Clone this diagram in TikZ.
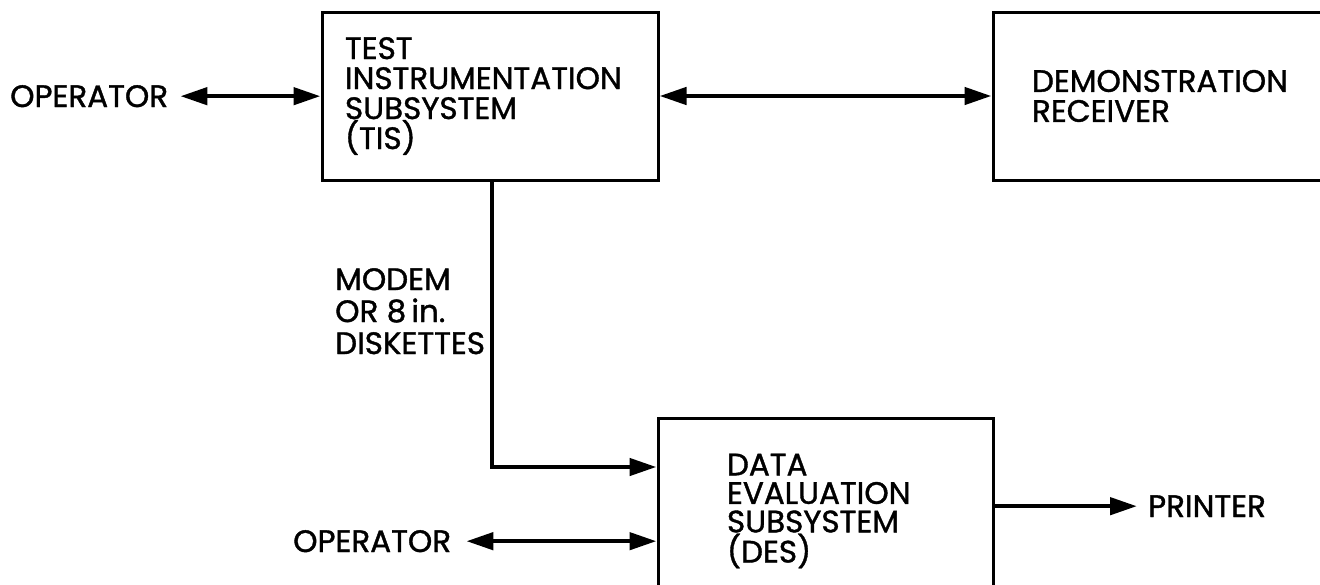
\documentclass[tikz,border=0pt]{standalone}
\usepackage{fontspec}
\setmainfont{Poppins}[FakeBold=1.2]
\usetikzlibrary{arrows.meta}
\begin{document}
\begin{tikzpicture}[x=1pt,y=-1pt,
  box/.style={draw, line width=3pt, inner ysep=0pt, align=left, font=\fontsize{31}{30}\selectfont},
  lbl/.style={inner sep=0pt, font=\fontsize{31}{30}\selectfont},
  conn/.style={line width=4.5pt},
  tip/.style={-{Triangle[length=27pt,width=17pt]}},
  dbl/.style={{Triangle[length=27pt,width=17pt]}-{Triangle[length=27pt,width=17pt]}}]
\useasboundingbox (0,0) rectangle (1320,584);
% boxes
\node[box, minimum width=336pt, minimum height=168pt, inner xsep=23pt, text width=290pt] (tis) at (490,96)
  {TEST\\INSTRUMENTATION\\SUBSYSTEM\\(TIS)};
\node[box, minimum width=367pt, minimum height=168pt, inner xsep=39pt, text width=289pt] (demo) at (1176.5,96)
  {DEMONSTRATION\\RECEIVER};
\node[box, minimum width=335pt, minimum height=186pt, inner xsep=69pt, text width=197pt,
  font=\fontsize{31}{28.5}\selectfont] (des) at (825.5,511)
  {DATA\\EVALUATION\\SUBSYSTEM\\(DES)};
% labels
\node[lbl, anchor=base west] (op1) at (10,107) {OPERATOR};
\node[lbl, anchor=base west] (op2) at (293,552) {OPERATOR};
\node[lbl, anchor=base west] (prn) at (1148,517) {PRINTER};
\node[lbl, anchor=north west, align=left, font=\fontsize{31}{32}\selectfont] (med) at (335,268)
  {MODEM\\OR 8\,in.\\DISKETTES};
% connectors
\draw[conn,dbl] ([xshift=12pt]op1.east) -- (op1.east -| tis.west);
\draw[conn,dbl] (tis.east) -- (tis.east -| demo.west);
\draw[conn,tip] ([xshift=2pt]tis.south) |- ([yshift=44pt]des.west);
\draw[conn,dbl] ([xshift=15pt]op2.east) -- (op2.east -| des.west);
\draw[conn,tip] (prn.west -| des.east) -- ([xshift=-11pt]prn.west);
\end{tikzpicture}
\end{document}
